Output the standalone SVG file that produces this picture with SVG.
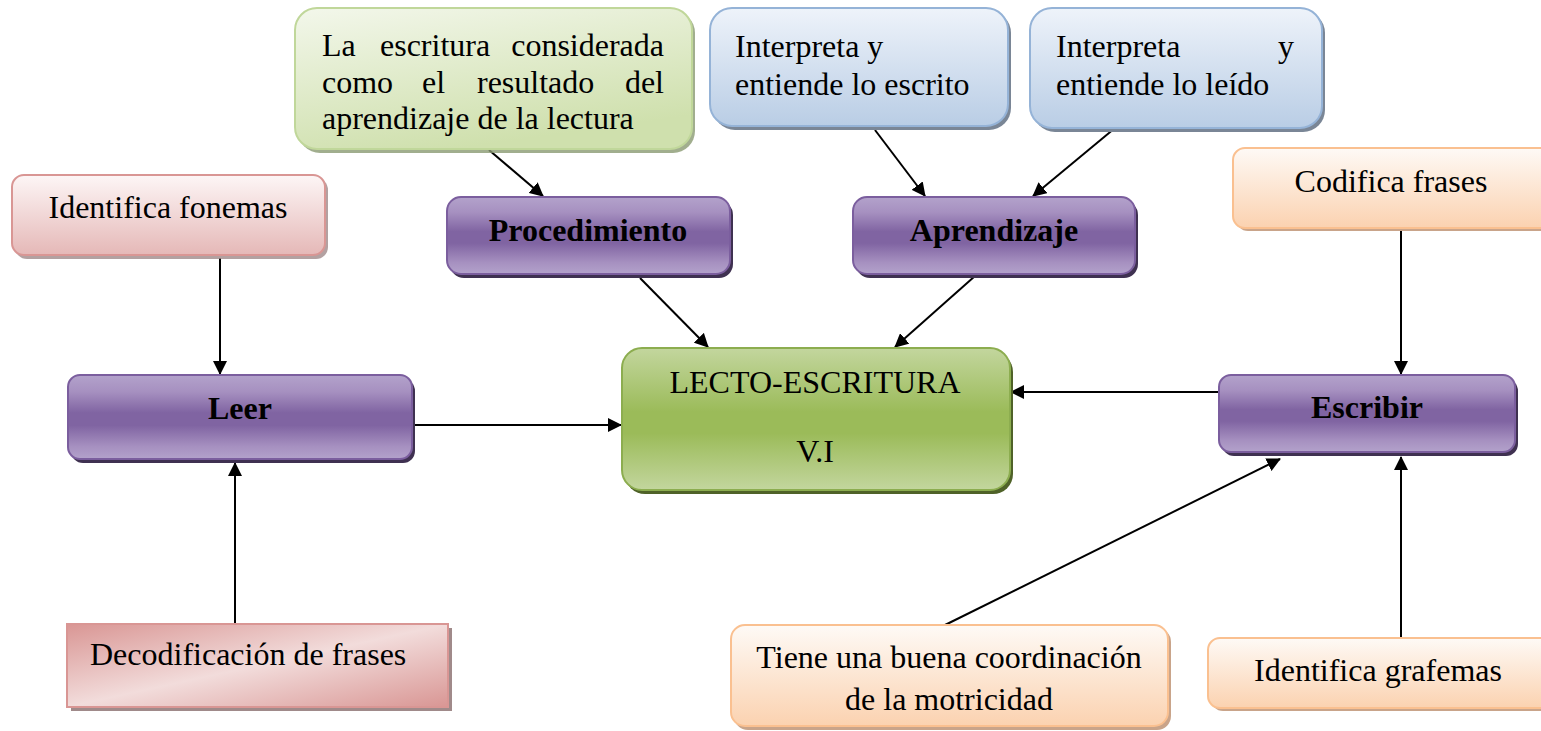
<svg xmlns="http://www.w3.org/2000/svg" width="1541" height="731" viewBox="0 0 1541 731">
<defs>
<linearGradient id="gPurple" x1="0" y1="0" x2="0" y2="1">
<stop offset="0" stop-color="#b3a2cb"/><stop offset="0.2" stop-color="#a690c0"/><stop offset="0.45" stop-color="#8064a2"/><stop offset="0.6" stop-color="#8064a2"/><stop offset="0.85" stop-color="#a690c0"/><stop offset="1" stop-color="#b3a2cb"/>
</linearGradient>
<linearGradient id="gGreen" x1="0" y1="0" x2="0" y2="1">
<stop offset="0" stop-color="#c3d69e"/><stop offset="0.45" stop-color="#9bbb59"/><stop offset="0.6" stop-color="#9bbb59"/><stop offset="1" stop-color="#c3d69e"/>
</linearGradient>
<linearGradient id="gLightGreen" x1="0" y1="0" x2="0.4" y2="1">
<stop offset="0" stop-color="#f3f7eb"/><stop offset="1" stop-color="#cfe0ad"/>
</linearGradient>
<linearGradient id="gBlue" x1="0" y1="0" x2="0" y2="1">
<stop offset="0" stop-color="#eef3fa"/><stop offset="1" stop-color="#b9cde5"/>
</linearGradient>
<linearGradient id="gPink" x1="0" y1="0" x2="0" y2="1">
<stop offset="0" stop-color="#fdf6f6"/><stop offset="1" stop-color="#e5b8b7"/>
</linearGradient>
<linearGradient id="gPinkDiag" x1="0" y1="0" x2="1" y2="1">
<stop offset="0" stop-color="#d99694"/><stop offset="0.5" stop-color="#f2dcdb"/><stop offset="1" stop-color="#d99694"/>
</linearGradient>
<linearGradient id="gOrange" x1="0" y1="0" x2="0" y2="1">
<stop offset="0" stop-color="#fefaf6"/><stop offset="1" stop-color="#fbd2b0"/>
</linearGradient>
<marker id="arr" markerWidth="14" markerHeight="14" refX="13" refY="7" orient="auto" markerUnits="userSpaceOnUse">
<path d="M0,0 L14,7 L0,14 Z" fill="#000"/>
</marker>
<style>
text{font-family:"Liberation Serif","Times New Roman",serif;font-size:32px;fill:#000}
.b{font-weight:bold}
.c{text-anchor:middle}
.e{text-anchor:end}
.purple{fill:url(#gPurple);stroke:#7b5e9e;stroke-width:2}
.purpleSh{fill:#3f3151}
.conn{stroke:#000;stroke-width:2;fill:none;marker-end:url(#arr)}
</style>
</defs>

<g id="connectors">
<line class="conn" x1="489" y1="150" x2="543" y2="196"/>
<line class="conn" x1="875" y1="130" x2="925" y2="196"/>
<line class="conn" x1="1115" y1="128" x2="1033" y2="196"/>
<line class="conn" x1="640" y1="278" x2="708" y2="347"/>
<line class="conn" x1="975" y1="276" x2="895" y2="347"/>
<line class="conn" x1="412" y1="425" x2="621" y2="425"/>
<line class="conn" x1="1219" y1="392" x2="1011" y2="392"/>
<line class="conn" x1="220" y1="258" x2="220" y2="374"/>
<line class="conn" x1="235" y1="624" x2="235" y2="463"/>
<line class="conn" x1="1401" y1="228" x2="1401" y2="374"/>
<line class="conn" x1="945" y1="625" x2="1280" y2="459"/>
<line class="conn" x1="1401" y1="638" x2="1401" y2="457"/>
</g>

<g id="n-escritura-resultado">
<rect x="298" y="11" width="397" height="142" rx="22" fill="#8a9a72" opacity="0.8"/>
<rect x="295" y="8" width="397" height="141" rx="22" fill="url(#gLightGreen)" stroke="#c0d79a" stroke-width="2"/>
<text y="56"><tspan x="322">La</tspan><tspan x="380">escritura</tspan><tspan x="664" class="e">considerada</tspan></text>
<text y="93"><tspan x="322">como</tspan><tspan x="422">el</tspan><tspan x="477">resultado</tspan><tspan x="664" class="e">del</tspan></text>
<text x="322" y="129">aprendizaje de la lectura</text>
</g>

<g id="n-interpreta-escrito">
<rect x="713" y="11" width="298" height="119" rx="22" fill="#7a8696"/>
<rect x="710" y="8" width="298" height="118" rx="22" fill="url(#gBlue)" stroke="#95b3d7" stroke-width="2"/>
<text x="735" y="57">Interpreta y</text>
<text x="735" y="95">entiende lo escrito</text>
</g>

<g id="n-interpreta-leido">
<rect x="1033" y="11" width="292" height="121" rx="22" fill="#7a8696"/>
<rect x="1030" y="8" width="292" height="120" rx="22" fill="url(#gBlue)" stroke="#95b3d7" stroke-width="2"/>
<text y="57"><tspan x="1056">Interpreta</tspan><tspan x="1294" class="e">y</tspan></text>
<text x="1056" y="95">entiende lo leído</text>
</g>

<g id="n-procedimiento">
<rect x="450" y="201" width="283" height="77" rx="14" class="purpleSh"/>
<rect x="447" y="197" width="283" height="77" rx="14" class="purple"/>
<text x="588" y="241" class="b c">Procedimiento</text>
</g>

<g id="n-aprendizaje">
<rect x="856" y="201" width="282" height="77" rx="14" class="purpleSh"/>
<rect x="853" y="197" width="282" height="77" rx="14" class="purple"/>
<text x="994" y="241" class="b c">Aprendizaje</text>
</g>

<g id="n-fonemas">
<rect x="15" y="178" width="313" height="81" rx="12" fill="#a08a8a" opacity="0.8"/>
<rect x="12" y="175" width="313" height="80" rx="12" fill="url(#gPink)" stroke="#d99694" stroke-width="2"/>
<text x="168" y="218" class="c">Identifica fonemas</text>
</g>

<g id="n-leer">
<rect x="71" y="379" width="344" height="84" rx="12" class="purpleSh"/>
<rect x="68" y="375" width="344" height="84" rx="12" class="purple"/>
<text x="240" y="419" class="b c">Leer</text>
</g>

<g id="n-lecto">
<rect x="625" y="352" width="388" height="142" rx="20" fill="#4f6228"/>
<rect x="622" y="348" width="388" height="142" rx="20" fill="url(#gGreen)" stroke="#8cad4f" stroke-width="2"/>
<text x="815" y="393" class="c">LECTO-ESCRITURA</text>
<text x="815" y="462" class="c">V.I</text>
</g>

<g id="n-escribir">
<rect x="1222" y="379" width="296" height="77" rx="12" class="purpleSh"/>
<rect x="1219" y="375" width="296" height="77" rx="12" class="purple"/>
<text x="1367" y="418" class="b c">Escribir</text>
</g>

<g id="n-codifica">
<rect x="1236" y="151" width="320" height="80" rx="12" fill="#c9a48a"/>
<rect x="1233" y="148" width="320" height="80" rx="12" fill="url(#gOrange)" stroke="#fac090" stroke-width="2"/>
<text x="1391" y="192" class="c">Codifica frases</text>
</g>

<g id="n-decodificacion">
<rect x="71" y="628" width="381" height="83" fill="#a08a8a"/>
<rect x="67" y="624" width="381" height="83" fill="url(#gPinkDiag)" stroke="#d99694" stroke-width="2"/>
<text x="90" y="665">Decodificación de frases</text>
</g>

<g id="n-tiene">
<rect x="734" y="628" width="437" height="102" rx="14" fill="#c9a48a"/>
<rect x="731" y="625" width="437" height="101" rx="14" fill="url(#gOrange)" stroke="#fac090" stroke-width="2"/>
<text x="949" y="668" class="c">Tiene una buena coordinación</text>
<text x="949" y="710" class="c">de la motricidad</text>
</g>

<g id="n-grafemas">
<rect x="1211" y="641" width="345" height="70" rx="12" fill="#c9a48a"/>
<rect x="1208" y="638" width="345" height="70" rx="12" fill="url(#gOrange)" stroke="#fac090" stroke-width="2"/>
<text x="1378" y="681" class="c">Identifica grafemas</text>
</g>
</svg>
